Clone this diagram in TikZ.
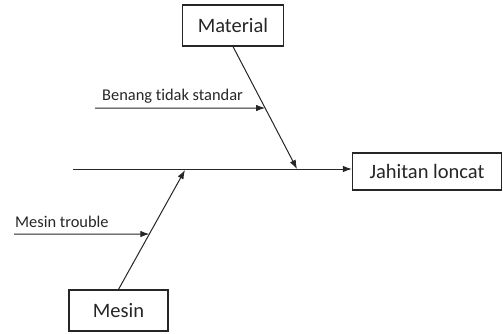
\documentclass[tikz,border=0pt]{standalone}
\usepackage{fontspec}
\setmainfont{Carlito}[Ligatures=NoCommon]
\usetikzlibrary{arrows.meta,positioning,calc}

\tikzset{
  kotak/.style={draw=black!85,line width=1.2pt,inner sep=0pt,font=\fontsize{20.5}{23}\selectfont,text=black!85},
  garis/.style={draw=black!85,line width=1pt},
  sebab/.style={font=\fontsize{16.4}{18}\selectfont,text=black!85,inner sep=0pt,anchor=base west}
}

\begin{document}
\begin{tikzpicture}[x=1pt,y=-1pt,>={Latex[length=9pt,width=6.5pt]}]
  \useasboundingbox (0,0) rectangle (503,333);
  % kotak kategori dan akibat
  \node[kotak,minimum width=101pt,minimum height=41pt] (material) at (233,25.5) {Material};
  \node[kotak,minimum width=99pt,minimum height=41pt] (mesin) at (118.5,310.5) {Mesin};
  \node[kotak,minimum width=149pt,minimum height=37pt] (akibat) at (427,171.5) {Jahitan loncat};
  % tulang utama
  \coordinate (ekor) at (73,169);
  \draw[garis,->] (ekor) -- (ekor -| akibat.west);
  % tulang material dan mesin
  \coordinate (ujungmat) at (297,169);
  \coordinate (ujungmes) at (185,170);
  \draw[garis,->] (material.south) -- (ujungmat);
  \draw[garis,->] (mesin.north) -- (ujungmes);
  % sebab-sebab kecil
  \coordinate (b1) at (95,108);
  \coordinate (b2) at (intersection of b1--{$(b1)+(300,0)$} and material.south--ujungmat);
  \draw[garis,->] (b1) -- (b2);
  \node[sebab] (benang) at (102,100) {Benang tidak standar};
  \coordinate (m1) at (14,234);
  \coordinate (m2) at (intersection of m1--{$(m1)+(300,0)$} and mesin.north--ujungmes);
  \draw[garis,->] (m1) -- (m2);
  \node[sebab] (trouble) at (15,227) {Mesin trouble};
\end{tikzpicture}
\end{document}
